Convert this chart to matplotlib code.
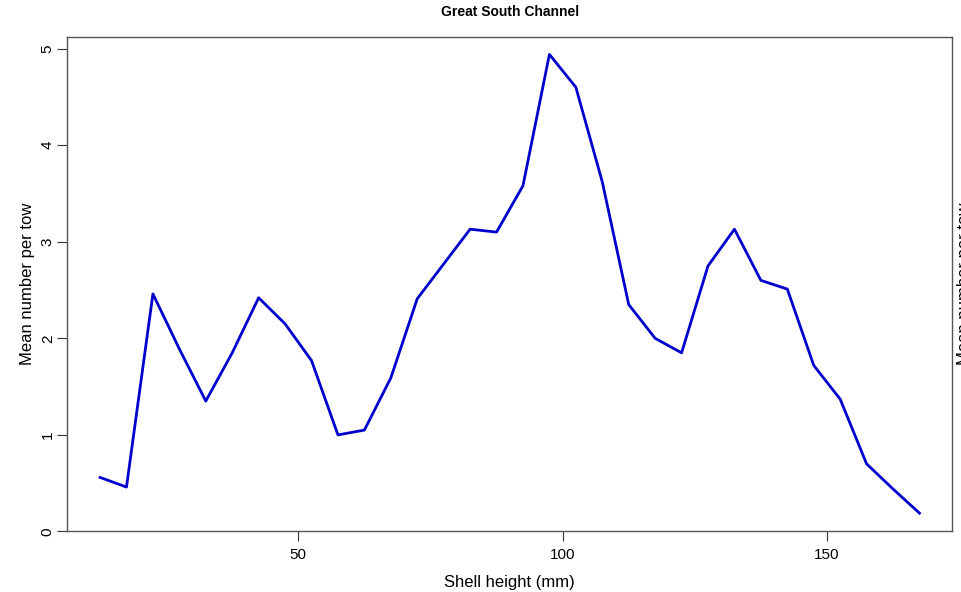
import matplotlib
matplotlib.use("Agg")
import matplotlib.pyplot as plt

plt.rcParams['font.family'] = ['Liberation Sans', 'DejaVu Sans']

# shell height bin midpoints (mm) and mean number per tow
shell_height = [12.5, 17.5, 22.5, 27.5, 32.5, 37.5, 42.5, 47.5, 52.5, 57.5,
                62.5, 67.5, 72.5, 77.5, 82.5, 87.5, 92.5, 97.5, 102.5, 107.5,
                112.5, 117.5, 122.5, 127.5, 132.5, 137.5, 142.5, 147.5, 152.5,
                157.5, 162.5, 167.5]
mean_per_tow = [0.56, 0.46, 2.46, 1.89, 1.35, 1.85, 2.42, 2.15, 1.77, 1.00,
                1.05, 1.59, 2.41, 2.77, 3.13, 3.10, 3.58, 4.94, 4.60, 3.62,
                2.35, 2.00, 1.85, 2.75, 3.13, 2.60, 2.51, 1.72, 1.37,
                0.70, 0.44, 0.19]
x_ticks = [50, 100, 150]
y_ticks = [0, 1, 2, 3, 4, 5]

fig = plt.figure(figsize=(9.61, 5.92), dpi=100)
ax = fig.add_axes([0.0700, 0.1022, 0.9209, 0.8353])

ax.plot(shell_height, mean_per_tow, color='#0000CD', linewidth=2)

ax.set_xlim(6.3, 173.7)
ax.set_ylim(0, 5.12)
ax.set_xticks(x_ticks)
ax.set_yticks(y_ticks)
ax.tick_params(direction='out', length=7, width=0.8, colors='#333333',
               labelcolor='black', labelsize=11)
ax.tick_params(axis='x', pad=5)
ax.tick_params(axis='y', pad=2)
for lab in ax.get_yticklabels():
    lab.set_rotation(90)
    lab.set_va('center')
for s in ax.spines.values():
    s.set_color('#555555')
    s.set_linewidth(1)

ax.set_xlabel('Shell height (mm)', fontsize=12, labelpad=9)
ax.set_ylabel('Mean number per tow', fontsize=12, labelpad=4)
ax.set_title('Great South Channel', fontsize=10, fontweight='bold', pad=15)

# second axis label, cut off at the right edge like the original
fig.text(0.9955, 0.52, 'Mean number per tow', rotation=90, fontsize=12,
         ha='left', va='center')

fig.savefig('out.png', dpi=100)
